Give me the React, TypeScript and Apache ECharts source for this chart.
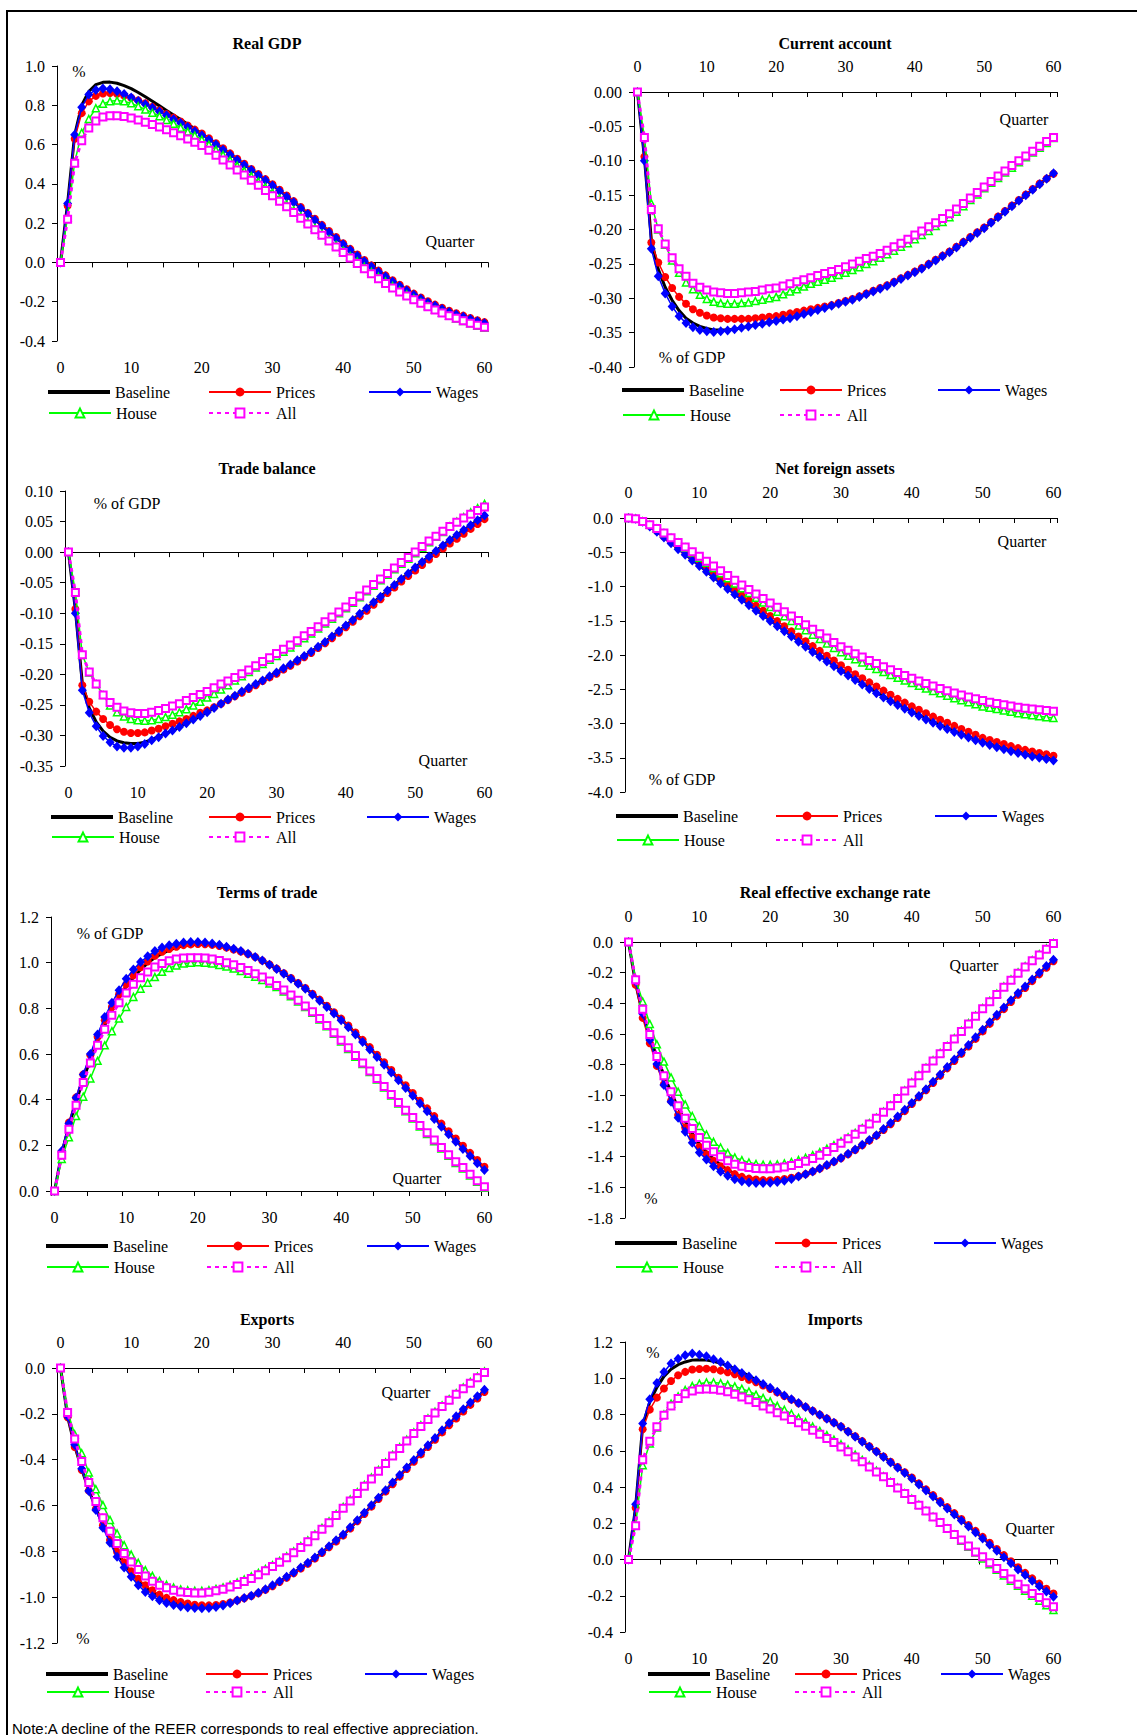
import React, { useEffect, useRef } from 'react';
import * as echarts from 'echarts';

// ---------------- categories ----------------
const quarters: string[] = Array.from({ length: 61 }, (_, i) => String(i));
const seriesNames = ['Baseline', 'Prices', 'Wages', 'House', 'All'];

// ---------------- Real GDP ----------------
const gdpBaseline = [
  0, 0.30, 0.65, 0.80, 0.87, 0.905, 0.917, 0.918, 0.912, 0.90, 0.885,
  0.865, 0.843, 0.82, 0.797, 0.774, 0.751, 0.728, 0.704, 0.68, 0.655,
  0.63, 0.604, 0.578, 0.552, 0.525, 0.499, 0.473, 0.447, 0.421, 0.395,
  0.367, 0.338, 0.309, 0.279, 0.249, 0.219, 0.188, 0.157, 0.126, 0.095,
  0.066, 0.037, 0.009, -0.018, -0.044, -0.069, -0.094, -0.117, -0.14, -0.162,
  -0.182, -0.201, -0.218, -0.234, -0.249, -0.262, -0.274, -0.285, -0.296, -0.306];
const gdpPrices = [
  0, 0.29, 0.63, 0.76, 0.82, 0.848, 0.86, 0.862, 0.858, 0.85, 0.838,
  0.825, 0.81, 0.792, 0.774, 0.756, 0.737, 0.717, 0.697, 0.676, 0.656,
  0.632, 0.607, 0.581, 0.555, 0.528, 0.502, 0.476, 0.45, 0.424, 0.398,
  0.37, 0.341, 0.312, 0.282, 0.252, 0.222, 0.191, 0.16, 0.129, 0.098,
  0.069, 0.04, 0.012, -0.015, -0.041, -0.066, -0.091, -0.114, -0.137, -0.159,
  -0.179, -0.198, -0.215, -0.231, -0.246, -0.259, -0.271, -0.283, -0.294, -0.304];
const gdpWages = [
  0, 0.30, 0.65, 0.79, 0.855, 0.878, 0.885, 0.882, 0.872, 0.857, 0.84,
  0.822, 0.805, 0.787, 0.768, 0.749, 0.729, 0.71, 0.69, 0.668, 0.648,
  0.625, 0.6, 0.574, 0.548, 0.522, 0.496, 0.47, 0.444, 0.418, 0.392,
  0.364, 0.335, 0.306, 0.276, 0.246, 0.216, 0.185, 0.154, 0.123, 0.092,
  0.063, 0.034, 0.006, -0.021, -0.047, -0.072, -0.097, -0.12, -0.143, -0.165,
  -0.185, -0.204, -0.221, -0.237, -0.252, -0.265, -0.277, -0.288, -0.299, -0.309];
const gdpHouse = [
  0, 0.23, 0.51, 0.66, 0.73, 0.785, 0.808, 0.82, 0.824, 0.82, 0.81,
  0.795, 0.779, 0.762, 0.744, 0.725, 0.706, 0.686, 0.666, 0.646, 0.625,
  0.599, 0.573, 0.547, 0.52, 0.493, 0.466, 0.439, 0.411, 0.383, 0.355,
  0.326, 0.296, 0.266, 0.236, 0.206, 0.176, 0.146, 0.117, 0.088, 0.06,
  0.032, 0.005, -0.022, -0.048, -0.073, -0.097, -0.12, -0.142, -0.163, -0.183,
  -0.203, -0.222, -0.24, -0.256, -0.271, -0.285, -0.298, -0.31, -0.322, -0.333];
const gdpAll = [
  0, 0.22, 0.505, 0.62, 0.685, 0.72, 0.74, 0.747, 0.747, 0.743, 0.735,
  0.725, 0.714, 0.702, 0.689, 0.675, 0.66, 0.645, 0.629, 0.612, 0.595,
  0.571, 0.546, 0.521, 0.496, 0.471, 0.445, 0.419, 0.393, 0.366, 0.34,
  0.312, 0.283, 0.254, 0.225, 0.196, 0.167, 0.138, 0.109, 0.079, 0.05,
  0.022, -0.005, -0.032, -0.058, -0.083, -0.107, -0.13, -0.151, -0.171, -0.19,
  -0.208, -0.226, -0.242, -0.257, -0.271, -0.284, -0.297, -0.309, -0.32, -0.33];

// ---------------- Current account ----------------
const caBaseline = [
  0, -0.095, -0.215, -0.258, -0.284, -0.303, -0.318, -0.329, -0.336, -0.341, -0.344,
  -0.346, -0.346, -0.346, -0.345, -0.343, -0.341, -0.339, -0.337, -0.335, -0.333,
  -0.331, -0.329, -0.326, -0.323, -0.32, -0.317, -0.314, -0.311, -0.308, -0.305,
  -0.302, -0.298, -0.294, -0.29, -0.286, -0.282, -0.277, -0.272, -0.267, -0.262,
  -0.257, -0.251, -0.245, -0.239, -0.233, -0.226, -0.219, -0.212, -0.205, -0.198,
  -0.19, -0.182, -0.174, -0.166, -0.158, -0.15, -0.142, -0.134, -0.126, -0.118];
const caPrices = [
  0, -0.094, -0.219, -0.248, -0.269, -0.285, -0.298, -0.308, -0.316, -0.321, -0.325,
  -0.328, -0.329, -0.33, -0.33, -0.33, -0.33, -0.329, -0.328, -0.327, -0.326,
  -0.324, -0.322, -0.32, -0.318, -0.316, -0.314, -0.312, -0.31, -0.307, -0.304,
  -0.301, -0.297, -0.293, -0.289, -0.285, -0.281, -0.276, -0.271, -0.266, -0.261,
  -0.256, -0.25, -0.244, -0.238, -0.232, -0.225, -0.218, -0.211, -0.204, -0.197,
  -0.189, -0.181, -0.173, -0.165, -0.157, -0.149, -0.141, -0.133, -0.126, -0.119];
const caWages = [
  0, -0.10, -0.228, -0.268, -0.293, -0.312, -0.326, -0.336, -0.342, -0.346, -0.348,
  -0.349, -0.348, -0.347, -0.345, -0.343, -0.341, -0.339, -0.337, -0.335, -0.333,
  -0.331, -0.329, -0.326, -0.323, -0.32, -0.317, -0.314, -0.311, -0.308, -0.305,
  -0.302, -0.298, -0.294, -0.29, -0.286, -0.282, -0.277, -0.272, -0.267, -0.262,
  -0.257, -0.251, -0.245, -0.239, -0.233, -0.226, -0.219, -0.212, -0.205, -0.198,
  -0.19, -0.182, -0.174, -0.166, -0.158, -0.15, -0.142, -0.134, -0.126, -0.118];
const caHouse = [
  0, -0.065, -0.162, -0.2, -0.222, -0.245, -0.263, -0.277, -0.287, -0.295, -0.301,
  -0.305, -0.307, -0.308, -0.308, -0.307, -0.306, -0.304, -0.302, -0.3, -0.298,
  -0.294, -0.29, -0.287, -0.283, -0.279, -0.276, -0.273, -0.27, -0.266, -0.263,
  -0.259, -0.255, -0.25, -0.246, -0.241, -0.236, -0.231, -0.225, -0.22, -0.214,
  -0.208, -0.202, -0.195, -0.189, -0.182, -0.174, -0.166, -0.157, -0.149, -0.14,
  -0.132, -0.125, -0.117, -0.11, -0.102, -0.095, -0.088, -0.081, -0.074, -0.067];
const caAll = [
  0, -0.066, -0.171, -0.199, -0.221, -0.241, -0.257, -0.268, -0.278, -0.284, -0.288,
  -0.291, -0.292, -0.293, -0.293, -0.292, -0.291, -0.29, -0.288, -0.286, -0.285,
  -0.282, -0.279, -0.276, -0.273, -0.27, -0.267, -0.264, -0.261, -0.258, -0.254,
  -0.25, -0.246, -0.242, -0.239, -0.235, -0.23, -0.225, -0.22, -0.214, -0.208,
  -0.202, -0.196, -0.19, -0.184, -0.177, -0.17, -0.162, -0.154, -0.146, -0.138,
  -0.13, -0.122, -0.115, -0.107, -0.1, -0.093, -0.086, -0.079, -0.072, -0.066];

// ---------------- Trade balance ----------------
const tbBaseline = [
  0, -0.095, -0.215, -0.255, -0.278, -0.293, -0.303, -0.309, -0.312, -0.313, -0.313,
  -0.311, -0.307, -0.302, -0.297, -0.292, -0.286, -0.28, -0.274, -0.268, -0.262,
  -0.255, -0.248, -0.241, -0.235, -0.228, -0.222, -0.216, -0.21, -0.203, -0.197,
  -0.19, -0.184, -0.177, -0.17, -0.163, -0.155, -0.147, -0.138, -0.129, -0.12,
  -0.111, -0.101, -0.092, -0.082, -0.073, -0.063, -0.054, -0.044, -0.035, -0.025,
  -0.016, -0.007, 0.002, 0.011, 0.02, 0.028, 0.036, 0.044, 0.052, 0.06];
const tbPrices = [
  0, -0.093, -0.218, -0.245, -0.261, -0.273, -0.283, -0.29, -0.294, -0.296, -0.296,
  -0.295, -0.292, -0.289, -0.285, -0.281, -0.277, -0.273, -0.268, -0.263, -0.259,
  -0.254, -0.248, -0.242, -0.236, -0.23, -0.224, -0.218, -0.211, -0.205, -0.199,
  -0.192, -0.186, -0.179, -0.172, -0.165, -0.157, -0.149, -0.141, -0.132, -0.123,
  -0.114, -0.105, -0.096, -0.086, -0.077, -0.067, -0.058, -0.048, -0.039, -0.03,
  -0.021, -0.012, -0.003, 0.006, 0.014, 0.022, 0.03, 0.038, 0.046, 0.054];
const tbWages = [
  0, -0.10, -0.226, -0.263, -0.285, -0.301, -0.311, -0.318, -0.32, -0.32, -0.318,
  -0.314, -0.308, -0.303, -0.297, -0.292, -0.286, -0.28, -0.274, -0.268, -0.262,
  -0.255, -0.248, -0.241, -0.235, -0.228, -0.222, -0.216, -0.21, -0.203, -0.197,
  -0.19, -0.184, -0.177, -0.17, -0.163, -0.155, -0.147, -0.138, -0.129, -0.12,
  -0.111, -0.101, -0.092, -0.082, -0.073, -0.063, -0.054, -0.044, -0.035, -0.025,
  -0.016, -0.007, 0.002, 0.011, 0.02, 0.028, 0.036, 0.044, 0.052, 0.06];
const tbHouse = [
  0, -0.065, -0.168, -0.197, -0.216, -0.234, -0.251, -0.262, -0.269, -0.273, -0.275,
  -0.276, -0.275, -0.273, -0.27, -0.266, -0.262, -0.257, -0.251, -0.245, -0.238,
  -0.232, -0.225, -0.218, -0.21, -0.203, -0.196, -0.189, -0.183, -0.176, -0.17,
  -0.163, -0.156, -0.148, -0.141, -0.133, -0.125, -0.117, -0.109, -0.1, -0.092,
  -0.083, -0.074, -0.064, -0.055, -0.046, -0.037, -0.028, -0.019, -0.011, -0.002,
  0.007, 0.016, 0.025, 0.033, 0.042, 0.05, 0.057, 0.065, 0.072, 0.079];
const tbAll = [
  0, -0.066, -0.168, -0.196, -0.216, -0.234, -0.246, -0.254, -0.26, -0.263, -0.264,
  -0.264, -0.262, -0.259, -0.256, -0.252, -0.248, -0.243, -0.238, -0.233, -0.228,
  -0.222, -0.216, -0.211, -0.205, -0.199, -0.193, -0.186, -0.179, -0.173, -0.166,
  -0.159, -0.152, -0.145, -0.137, -0.13, -0.122, -0.114, -0.106, -0.098, -0.09,
  -0.081, -0.072, -0.062, -0.053, -0.044, -0.035, -0.026, -0.017, -0.009, 0.0,
  0.009, 0.018, 0.026, 0.034, 0.042, 0.049, 0.056, 0.062, 0.068, 0.074];

// ---------------- Net foreign assets ----------------
const nfaBaseline = [
  0, -0.01, -0.055, -0.123, -0.197, -0.28, -0.364, -0.448, -0.528, -0.612, -0.692,
  -0.777, -0.861, -0.945, -1.025, -1.105, -1.185, -1.264, -1.343, -1.418, -1.493,
  -1.568, -1.643, -1.717, -1.792, -1.866, -1.94, -2.01, -2.08, -2.15, -2.22,
  -2.285, -2.35, -2.415, -2.479, -2.543, -2.603, -2.659, -2.714, -2.769, -2.823,
  -2.873, -2.923, -2.973, -3.018, -3.063, -3.108, -3.148, -3.188, -3.228, -3.263,
  -3.298, -3.328, -3.358, -3.388, -3.413, -3.438, -3.463, -3.483, -3.503, -3.523];
const nfaPrices = [
  0, -0.01, -0.05, -0.115, -0.19, -0.27, -0.35, -0.425, -0.5, -0.58, -0.655,
  -0.735, -0.815, -0.895, -0.975, -1.055, -1.13, -1.205, -1.28, -1.355, -1.43,
  -1.505, -1.58, -1.655, -1.73, -1.8, -1.87, -1.94, -2.01, -2.08, -2.15,
  -2.215, -2.28, -2.34, -2.4, -2.46, -2.52, -2.58, -2.64, -2.695, -2.75,
  -2.8, -2.85, -2.9, -2.945, -2.99, -3.035, -3.08, -3.12, -3.165, -3.21,
  -3.24, -3.27, -3.3, -3.33, -3.36, -3.385, -3.41, -3.43, -3.45, -3.47];
const nfaWages = [
  0, -0.01, -0.055, -0.125, -0.2, -0.285, -0.37, -0.455, -0.535, -0.62, -0.70,
  -0.785, -0.87, -0.955, -1.035, -1.115, -1.195, -1.275, -1.355, -1.43, -1.505,
  -1.58, -1.655, -1.73, -1.805, -1.88, -1.955, -2.025, -2.095, -2.165, -2.235,
  -2.3, -2.365, -2.43, -2.495, -2.56, -2.62, -2.675, -2.73, -2.785, -2.84,
  -2.89, -2.94, -2.99, -3.035, -3.08, -3.125, -3.165, -3.205, -3.245, -3.28,
  -3.315, -3.345, -3.375, -3.405, -3.43, -3.455, -3.48, -3.5, -3.52, -3.54];
const nfaHouse = [
  0, -0.01, -0.05, -0.097, -0.155, -0.22, -0.29, -0.36, -0.435, -0.505, -0.58,
  -0.655, -0.73, -0.805, -0.88, -0.955, -1.025, -1.095, -1.165, -1.235, -1.3,
  -1.368, -1.436, -1.503, -1.57, -1.637, -1.703, -1.768, -1.833, -1.897, -1.96,
  -2.012, -2.062, -2.11, -2.158, -2.204, -2.249, -2.292, -2.333, -2.372, -2.41,
  -2.45, -2.49, -2.525, -2.56, -2.595, -2.63, -2.66, -2.69, -2.72, -2.75,
  -2.77, -2.79, -2.81, -2.83, -2.85, -2.865, -2.88, -2.895, -2.91, -2.92];
const nfaAll = [
  0, -0.01, -0.05, -0.097, -0.155, -0.22, -0.288, -0.357, -0.425, -0.493, -0.56,
  -0.63, -0.7, -0.77, -0.84, -0.91, -0.978, -1.045, -1.11, -1.175, -1.24,
  -1.304, -1.368, -1.432, -1.496, -1.56, -1.624, -1.688, -1.752, -1.816, -1.88,
  -1.932, -1.982, -2.031, -2.079, -2.125, -2.17, -2.214, -2.257, -2.299, -2.34,
  -2.379, -2.417, -2.453, -2.488, -2.521, -2.553, -2.583, -2.612, -2.639, -2.665,
  -2.688, -2.709, -2.728, -2.746, -2.762, -2.776, -2.789, -2.8, -2.81, -2.82];

// ---------------- Terms of trade ----------------
const totBaseline = [
  0, 0.165, 0.285, 0.39, 0.49, 0.575, 0.655, 0.725, 0.79, 0.845, 0.895,
  0.935, 0.97, 0.998, 1.022, 1.04, 1.055, 1.066, 1.074, 1.079, 1.081,
  1.08, 1.077, 1.072, 1.065, 1.057, 1.048, 1.037, 1.024, 1.008, 0.991,
  0.973, 0.953, 0.932, 0.91, 0.888, 0.863, 0.837, 0.81, 0.782, 0.753,
  0.722, 0.691, 0.659, 0.626, 0.593, 0.56, 0.526, 0.492, 0.458, 0.424,
  0.39, 0.356, 0.322, 0.289, 0.256, 0.224, 0.192, 0.161, 0.13, 0.1];
const totPrices = [
  0, 0.17, 0.3, 0.41, 0.51, 0.595, 0.675, 0.748, 0.806, 0.862, 0.905,
  0.945, 0.98, 1.005, 1.03, 1.048, 1.06, 1.07, 1.077, 1.08, 1.082,
  1.081, 1.078, 1.073, 1.066, 1.058, 1.049, 1.038, 1.025, 1.009, 0.992,
  0.974, 0.954, 0.933, 0.911, 0.889, 0.864, 0.838, 0.811, 0.783, 0.755,
  0.725, 0.694, 0.662, 0.63, 0.597, 0.564, 0.53, 0.496, 0.463, 0.429,
  0.395, 0.362, 0.328, 0.295, 0.262, 0.23, 0.198, 0.167, 0.136, 0.106];
const totWages = [
  0, 0.175, 0.296, 0.408, 0.51, 0.6, 0.685, 0.762, 0.824, 0.879, 0.93,
  0.97, 1.003, 1.028, 1.051, 1.066, 1.076, 1.083, 1.088, 1.09, 1.09,
  1.088, 1.084, 1.078, 1.07, 1.061, 1.051, 1.039, 1.025, 1.009, 0.991,
  0.972, 0.952, 0.93, 0.908, 0.886, 0.86, 0.833, 0.806, 0.777, 0.748,
  0.717, 0.685, 0.653, 0.62, 0.587, 0.553, 0.519, 0.485, 0.451, 0.417,
  0.383, 0.349, 0.315, 0.281, 0.248, 0.216, 0.184, 0.153, 0.122, 0.092];
const totHouse = [
  0, 0.14, 0.235, 0.328, 0.413, 0.493, 0.57, 0.638, 0.7, 0.755, 0.806,
  0.85, 0.886, 0.912, 0.937, 0.96, 0.977, 0.988, 0.996, 1.0, 1.002,
  1.0, 0.996, 0.99, 0.983, 0.974, 0.963, 0.951, 0.938, 0.924, 0.909,
  0.893, 0.874, 0.853, 0.83, 0.806, 0.781, 0.751, 0.721, 0.689, 0.655,
  0.622, 0.588, 0.556, 0.521, 0.488, 0.453, 0.418, 0.383, 0.349, 0.317,
  0.282, 0.25, 0.218, 0.186, 0.154, 0.123, 0.098, 0.068, 0.04, 0.014];
const totAll = [
  0, 0.157, 0.27, 0.376, 0.475, 0.561, 0.638, 0.708, 0.77, 0.824, 0.867,
  0.905, 0.934, 0.959, 0.981, 0.996, 1.008, 1.016, 1.02, 1.022, 1.022,
  1.02, 1.016, 1.01, 1.0, 0.991, 0.979, 0.966, 0.952, 0.937, 0.92,
  0.9, 0.88, 0.858, 0.835, 0.81, 0.785, 0.755, 0.725, 0.693, 0.66,
  0.627, 0.593, 0.561, 0.526, 0.493, 0.458, 0.423, 0.388, 0.354, 0.322,
  0.287, 0.255, 0.223, 0.191, 0.159, 0.128, 0.103, 0.073, 0.045, 0.019];

// ---------------- Real effective exchange rate ----------------
const reerBaseline = [
  0, -0.27, -0.47, -0.62, -0.75, -0.87, -0.98, -1.08, -1.17, -1.25, -1.315,
  -1.37, -1.415, -1.455, -1.487, -1.512, -1.53, -1.543, -1.551, -1.555, -1.556,
  -1.553, -1.547, -1.539, -1.528, -1.514, -1.497, -1.478, -1.456, -1.433, -1.409,
  -1.383, -1.355, -1.325, -1.294, -1.261, -1.224, -1.187, -1.146, -1.1, -1.054,
  -1.009, -0.964, -0.916, -0.868, -0.82, -0.772, -0.725, -0.677, -0.627, -0.578,
  -0.529, -0.48, -0.433, -0.386, -0.339, -0.295, -0.25, -0.206, -0.163, -0.121];
const reerPrices = [
  0, -0.279, -0.495, -0.66, -0.808, -0.928, -1.035, -1.129, -1.21, -1.275, -1.336,
  -1.384, -1.427, -1.462, -1.488, -1.514, -1.532, -1.543, -1.549, -1.553, -1.554,
  -1.551, -1.546, -1.538, -1.527, -1.514, -1.497, -1.478, -1.457, -1.434, -1.41,
  -1.384, -1.356, -1.326, -1.295, -1.262, -1.226, -1.189, -1.148, -1.103, -1.057,
  -1.012, -0.967, -0.92, -0.872, -0.824, -0.776, -0.729, -0.681, -0.632, -0.583,
  -0.534, -0.485, -0.438, -0.391, -0.344, -0.3, -0.255, -0.211, -0.168, -0.126];
const reerWages = [
  0, -0.257, -0.468, -0.639, -0.795, -0.933, -1.042, -1.146, -1.238, -1.31, -1.373,
  -1.419, -1.462, -1.497, -1.525, -1.547, -1.56, -1.568, -1.572, -1.572, -1.57,
  -1.565, -1.557, -1.545, -1.53, -1.514, -1.496, -1.477, -1.455, -1.432, -1.408,
  -1.381, -1.353, -1.323, -1.292, -1.26, -1.22, -1.18, -1.138, -1.094, -1.05,
  -1.005, -0.96, -0.912, -0.864, -0.815, -0.767, -0.72, -0.672, -0.622, -0.573,
  -0.524, -0.474, -0.427, -0.38, -0.333, -0.29, -0.245, -0.2, -0.157, -0.115];
const reerHouse = [
  0, -0.24, -0.388, -0.534, -0.667, -0.78, -0.883, -0.976, -1.059, -1.135, -1.2,
  -1.255, -1.303, -1.34, -1.375, -1.405, -1.423, -1.438, -1.448, -1.452, -1.453,
  -1.45, -1.444, -1.435, -1.422, -1.407, -1.39, -1.37, -1.348, -1.325, -1.3,
  -1.274, -1.245, -1.214, -1.181, -1.145, -1.106, -1.065, -1.018, -0.968, -0.915,
  -0.867, -0.819, -0.771, -0.723, -0.677, -0.628, -0.579, -0.529, -0.48, -0.431,
  -0.384, -0.337, -0.29, -0.244, -0.198, -0.158, -0.118, -0.08, -0.042, -0.006];
const reerAll = [
  0, -0.246, -0.438, -0.604, -0.747, -0.872, -0.976, -1.068, -1.15, -1.216, -1.275,
  -1.325, -1.368, -1.401, -1.427, -1.449, -1.462, -1.471, -1.477, -1.479, -1.478,
  -1.474, -1.467, -1.457, -1.445, -1.43, -1.412, -1.39, -1.366, -1.34, -1.312,
  -1.283, -1.253, -1.221, -1.187, -1.15, -1.11, -1.068, -1.02, -0.972, -0.92,
  -0.872, -0.824, -0.776, -0.728, -0.682, -0.633, -0.584, -0.534, -0.485, -0.436,
  -0.389, -0.342, -0.295, -0.249, -0.203, -0.163, -0.123, -0.085, -0.047, -0.01];

// ---------------- Exports ----------------
const exBaseline = [
  0, -0.212, -0.34, -0.442, -0.533, -0.612, -0.685, -0.75, -0.805, -0.852, -0.893,
  -0.928, -0.957, -0.98, -0.999, -1.013, -1.023, -1.03, -1.035, -1.038, -1.04,
  -1.04, -1.037, -1.032, -1.024, -1.014, -1.004, -0.994, -0.982, -0.967, -0.95,
  -0.932, -0.913, -0.894, -0.873, -0.852, -0.829, -0.805, -0.78, -0.755, -0.729,
  -0.698, -0.667, -0.635, -0.602, -0.569, -0.536, -0.503, -0.47, -0.437, -0.405,
  -0.373, -0.341, -0.309, -0.277, -0.245, -0.215, -0.185, -0.156, -0.128, -0.1];
const exPrices = [
  0, -0.215, -0.345, -0.445, -0.535, -0.615, -0.686, -0.751, -0.802, -0.848, -0.887,
  -0.92, -0.948, -0.97, -0.989, -1.003, -1.013, -1.021, -1.028, -1.033, -1.035,
  -1.036, -1.034, -1.03, -1.023, -1.014, -1.005, -0.995, -0.983, -0.968, -0.952,
  -0.934, -0.915, -0.896, -0.875, -0.854, -0.831, -0.807, -0.782, -0.757, -0.731,
  -0.7, -0.669, -0.637, -0.605, -0.572, -0.539, -0.507, -0.474, -0.441, -0.409,
  -0.377, -0.345, -0.313, -0.281, -0.25, -0.22, -0.19, -0.161, -0.133, -0.105];
const exWages = [
  0, -0.211, -0.335, -0.44, -0.537, -0.62, -0.697, -0.763, -0.824, -0.87, -0.911,
  -0.948, -0.977, -0.996, -1.013, -1.025, -1.034, -1.041, -1.045, -1.047, -1.048,
  -1.047, -1.043, -1.036, -1.026, -1.015, -1.004, -0.994, -0.981, -0.965, -0.948,
  -0.93, -0.911, -0.892, -0.871, -0.85, -0.827, -0.803, -0.778, -0.752, -0.726,
  -0.695, -0.664, -0.632, -0.599, -0.566, -0.533, -0.5, -0.467, -0.434, -0.401,
  -0.369, -0.337, -0.305, -0.272, -0.24, -0.21, -0.18, -0.151, -0.123, -0.095];
const exHouse = [
  0, -0.19, -0.289, -0.372, -0.456, -0.529, -0.598, -0.663, -0.722, -0.773, -0.814,
  -0.85, -0.882, -0.907, -0.929, -0.946, -0.958, -0.966, -0.97, -0.972, -0.972,
  -0.969, -0.964, -0.957, -0.947, -0.936, -0.923, -0.909, -0.894, -0.877, -0.86,
  -0.842, -0.822, -0.8, -0.777, -0.752, -0.726, -0.698, -0.669, -0.638, -0.606,
  -0.574, -0.542, -0.51, -0.478, -0.445, -0.412, -0.379, -0.346, -0.313, -0.281,
  -0.25, -0.22, -0.191, -0.163, -0.136, -0.11, -0.085, -0.061, -0.038, -0.015];
const exAll = [
  0, -0.194, -0.31, -0.408, -0.5, -0.583, -0.653, -0.712, -0.766, -0.809, -0.846,
  -0.879, -0.908, -0.93, -0.948, -0.959, -0.97, -0.977, -0.98, -0.982, -0.982,
  -0.978, -0.972, -0.965, -0.956, -0.945, -0.932, -0.918, -0.902, -0.885, -0.866,
  -0.848, -0.828, -0.806, -0.783, -0.758, -0.732, -0.704, -0.675, -0.644, -0.612,
  -0.58, -0.548, -0.516, -0.484, -0.45, -0.417, -0.384, -0.351, -0.318, -0.286,
  -0.255, -0.225, -0.196, -0.168, -0.141, -0.115, -0.09, -0.066, -0.043, -0.02];

// ---------------- Imports ----------------
const imBaseline = [
  0, 0.29, 0.74, 0.87, 0.95, 1.01, 1.05, 1.075, 1.09, 1.1, 1.102,
  1.1, 1.093, 1.083, 1.07, 1.052, 1.033, 1.013, 0.99, 0.968, 0.946,
  0.925, 0.904, 0.883, 0.862, 0.841, 0.82, 0.798, 0.776, 0.754, 0.732,
  0.705, 0.678, 0.651, 0.623, 0.595, 0.566, 0.537, 0.508, 0.478, 0.449,
  0.416, 0.383, 0.35, 0.317, 0.284, 0.251, 0.218, 0.185, 0.152, 0.119,
  0.086, 0.052, 0.018, -0.016, -0.05, -0.081, -0.112, -0.142, -0.171, -0.2];
const imPrices = [
  0, 0.285, 0.719, 0.827, 0.893, 0.943, 0.985, 1.017, 1.035, 1.048, 1.051,
  1.052, 1.05, 1.042, 1.033, 1.022, 1.007, 0.992, 0.978, 0.96, 0.941,
  0.922, 0.902, 0.882, 0.862, 0.842, 0.821, 0.799, 0.778, 0.756, 0.734,
  0.707, 0.68, 0.653, 0.625, 0.597, 0.568, 0.539, 0.51, 0.481, 0.452,
  0.42, 0.387, 0.355, 0.322, 0.289, 0.256, 0.223, 0.19, 0.158, 0.125,
  0.092, 0.058, 0.024, -0.01, -0.043, -0.074, -0.104, -0.133, -0.161, -0.188];
const imWages = [
  0, 0.305, 0.75, 0.884, 0.974, 1.035, 1.081, 1.108, 1.127, 1.136, 1.13,
  1.121, 1.105, 1.09, 1.07, 1.05, 1.029, 1.009, 0.989, 0.968, 0.947,
  0.926, 0.905, 0.884, 0.863, 0.842, 0.82, 0.798, 0.776, 0.754, 0.732,
  0.705, 0.677, 0.65, 0.622, 0.594, 0.565, 0.535, 0.506, 0.477, 0.447,
  0.414, 0.381, 0.348, 0.315, 0.281, 0.248, 0.215, 0.182, 0.149, 0.116,
  0.082, 0.048, 0.013, -0.021, -0.055, -0.086, -0.117, -0.147, -0.177, -0.206];
const imHouse = [
  0, 0.19, 0.52, 0.64, 0.728, 0.8, 0.86, 0.9, 0.935, 0.957, 0.97,
  0.977, 0.977, 0.973, 0.965, 0.955, 0.942, 0.927, 0.91, 0.892, 0.872,
  0.848, 0.826, 0.804, 0.781, 0.757, 0.734, 0.71, 0.686, 0.661, 0.636,
  0.608, 0.579, 0.55, 0.52, 0.49, 0.459, 0.428, 0.397, 0.366, 0.335,
  0.302, 0.269, 0.236, 0.203, 0.17, 0.137, 0.104, 0.071, 0.038, 0.005,
  -0.026, -0.057, -0.088, -0.117, -0.145, -0.173, -0.2, -0.227, -0.253, -0.278];
const imAll = [
  0, 0.186, 0.551, 0.653, 0.732, 0.796, 0.847, 0.888, 0.914, 0.93, 0.939,
  0.941, 0.94, 0.934, 0.925, 0.912, 0.897, 0.882, 0.866, 0.847, 0.831,
  0.81, 0.792, 0.772, 0.754, 0.735, 0.713, 0.691, 0.667, 0.645, 0.621,
  0.594, 0.566, 0.539, 0.511, 0.483, 0.456, 0.425, 0.395, 0.364, 0.331,
  0.3, 0.267, 0.235, 0.204, 0.171, 0.138, 0.107, 0.074, 0.042, 0.015,
  -0.018, -0.05, -0.077, -0.107, -0.136, -0.162, -0.188, -0.21, -0.239, -0.261];

// ---------------- layout (positions / styles only) ----------------
const SERIF = "'Times New Roman', 'Liberation Serif', serif";
const SANS = "Arial, 'Liberation Sans', sans-serif";

type Panel = {
  title: string; data: number[][]; min: number; max: number; interval: number; decimals: number;
  grid: { left: number; top: number; width: number; height: number };
  labelPos: 'top' | 'bottom'; titleXY: [number, number];
  notes: { text: string; x: number; y: number }[];
  rows: [number, number]; cols: [number, number, number];
};

const panels: Panel[] = [
  { title: 'Real GDP', data: [gdpBaseline, gdpPrices, gdpWages, gdpHouse, gdpAll], min: -0.4, max: 1.0, interval: 0.2, decimals: 1,
    grid: { left: 57, top: 66, width: 431, height: 275 }, labelPos: 'bottom', titleXY: [267, 43],
    notes: [{ text: '%', x: 79, y: 71 }, { text: 'Quarter', x: 450, y: 241 }], rows: [392, 413], cols: [48, 208, 368] },
  { title: 'Current account', data: [caBaseline, caPrices, caWages, caHouse, caAll], min: -0.4, max: 0, interval: 0.05, decimals: 2,
    grid: { left: 634, top: 92, width: 423, height: 275 }, labelPos: 'top', titleXY: [835, 43],
    notes: [{ text: 'Quarter', x: 1024, y: 119 }, { text: '% of GDP', x: 692, y: 357 }], rows: [390, 415], cols: [622, 779, 937] },
  { title: 'Trade balance', data: [tbBaseline, tbPrices, tbWages, tbHouse, tbAll], min: -0.35, max: 0.1, interval: 0.05, decimals: 2,
    grid: { left: 65, top: 491, width: 423, height: 275 }, labelPos: 'bottom', titleXY: [267, 468],
    notes: [{ text: '% of GDP', x: 127, y: 503 }, { text: 'Quarter', x: 443, y: 760 }], rows: [817, 837], cols: [51, 208, 366] },
  { title: 'Net foreign assets', data: [nfaBaseline, nfaPrices, nfaWages, nfaHouse, nfaAll], min: -4, max: 0, interval: 0.5, decimals: 1,
    grid: { left: 625, top: 518, width: 432, height: 274 }, labelPos: 'top', titleXY: [835, 468],
    notes: [{ text: 'Quarter', x: 1022, y: 541 }, { text: '% of GDP', x: 682, y: 779 }], rows: [816, 840], cols: [616, 775, 934] },
  { title: 'Terms of trade', data: [totBaseline, totPrices, totWages, totHouse, totAll], min: 0, max: 1.2, interval: 0.2, decimals: 1,
    grid: { left: 51, top: 917, width: 437, height: 274 }, labelPos: 'bottom', titleXY: [267, 892],
    notes: [{ text: '% of GDP', x: 110, y: 933 }, { text: 'Quarter', x: 417, y: 1178 }], rows: [1246, 1267], cols: [46, 206, 366] },
  { title: 'Real effective exchange rate', data: [reerBaseline, reerPrices, reerWages, reerHouse, reerAll], min: -1.8, max: 0, interval: 0.2, decimals: 1,
    grid: { left: 625, top: 942, width: 432, height: 276 }, labelPos: 'top', titleXY: [835, 892],
    notes: [{ text: 'Quarter', x: 974, y: 965 }, { text: '%', x: 651, y: 1198 }], rows: [1243, 1267], cols: [615, 774, 933] },
  { title: 'Exports', data: [exBaseline, exPrices, exWages, exHouse, exAll], min: -1.2, max: 0, interval: 0.2, decimals: 1,
    grid: { left: 57, top: 1368, width: 431, height: 275 }, labelPos: 'top', titleXY: [267, 1319],
    notes: [{ text: 'Quarter', x: 406, y: 1392 }, { text: '%', x: 83, y: 1638 }], rows: [1674, 1692], cols: [46, 205, 364] },
  { title: 'Imports', data: [imBaseline, imPrices, imWages, imHouse, imAll], min: -0.4, max: 1.2, interval: 0.2, decimals: 1,
    grid: { left: 625, top: 1342, width: 432, height: 290 }, labelPos: 'bottom', titleXY: [835, 1319],
    notes: [{ text: '%', x: 653, y: 1352 }, { text: 'Quarter', x: 1030, y: 1528 }], rows: [1674, 1692], cols: [648, 794, 940] },
];

const seriesStyles: any[] = [
  { symbol: 'none', lineStyle: { color: '#000000', width: 3 }, itemStyle: { color: '#000000' } },
  { symbol: 'circle', symbolSize: 8, lineStyle: { color: '#ff0000', width: 1.5 }, itemStyle: { color: '#ff0000' } },
  { symbol: 'diamond', symbolSize: [9, 10], lineStyle: { color: '#0000ff', width: 1.5 }, itemStyle: { color: '#0000ff' } },
  { symbol: 'triangle', symbolSize: 7, lineStyle: { color: '#00ff00', width: 1.5 }, itemStyle: { color: '#ffffff', borderColor: '#00ff00', borderWidth: 1.5 } },
  { symbol: 'rect', symbolSize: 7, lineStyle: { color: '#ff00ff', width: 3, type: [4, 4] }, itemStyle: { color: '#ffffff', borderColor: '#ff00ff', borderWidth: 2 } },
];

function buildOption() {
  const grid: any[] = [];
  const xAxis: any[] = [];
  const yAxis: any[] = [];
  const series: any[] = [];
  const legend: any[] = [];
  const graphic: any[] = [];

  panels.forEach((p, i) => {
    grid.push({ left: p.grid.left, top: p.grid.top, width: p.grid.width, height: p.grid.height, containLabel: false });
    // axis line through zero with ticks
    xAxis.push({
      type: 'category', gridIndex: i, data: quarters, boundaryGap: true, position: 'bottom',
      axisLine: { show: true, onZero: true, lineStyle: { color: '#000', width: 1 } },
      axisTick: { show: true, interval: 4, length: 5, lineStyle: { color: '#000', width: 1 } },
      axisLabel: { show: false }, splitLine: { show: false },
    });
    // label-only axis
    xAxis.push({
      type: 'category', gridIndex: i, data: quarters, boundaryGap: true, position: p.labelPos,
      axisLine: { show: false, onZero: false }, axisTick: { show: false }, splitLine: { show: false },
      axisLabel: { show: true, interval: 9, margin: 18, color: '#000', fontSize: 16, fontFamily: SERIF },
    });
    yAxis.push({
      type: 'value', gridIndex: i, min: p.min, max: p.max, interval: p.interval, position: 'left',
      axisLine: { show: true, onZero: false, lineStyle: { color: '#000', width: 1 } },
      axisTick: { show: true, length: 5, lineStyle: { color: '#000', width: 1 } },
      splitLine: { show: false },
      axisLabel: { margin: 12, color: '#000', fontSize: 16, fontFamily: SERIF, formatter: (v: number) => v.toFixed(p.decimals) },
    });
    p.data.forEach((d, k) => {
      series.push({
        type: 'line', name: seriesNames[k], xAxisIndex: 2 * i, yAxisIndex: i, data: d,
        showAllSymbol: true, smooth: false, z: 2 + k, ...seriesStyles[k],
      });
    });
    seriesNames.forEach((name, k) => {
      const row = k < 3 ? 0 : 1;
      const col = k < 3 ? k : k - 3;
      const isBase = name === 'Baseline';
      legend.push({
        data: isBase ? [{ name, icon: 'rect' }] : [name],
        left: p.cols[col], top: p.rows[row] - 8, itemWidth: 62, itemHeight: isBase ? 4 : 11,
        padding: 0, itemGap: 0, selectedMode: false,
        textStyle: { color: '#000', fontSize: 16, fontFamily: SERIF },
      });
    });
    graphic.push({
      type: 'text', x: p.titleXY[0], y: p.titleXY[1],
      style: { text: p.title, font: `bold 16px ${SERIF}`, fill: '#000', textAlign: 'center', textVerticalAlign: 'middle' },
    });
    p.notes.forEach((n) => {
      graphic.push({
        type: 'text', x: n.x, y: n.y,
        style: { text: n.text, font: `16px ${SERIF}`, fill: '#000', textAlign: 'center', textVerticalAlign: 'middle' },
      });
    });
  });

  graphic.push({ type: 'line', shape: { x1: 6, y1: 11, x2: 1137, y2: 11 }, style: { stroke: '#000', lineWidth: 2 } });
  graphic.push({ type: 'line', shape: { x1: 7, y1: 10, x2: 7, y2: 1735 }, style: { stroke: '#000', lineWidth: 2 } });
  graphic.push({
    type: 'text', x: 12, y: 1728,
    style: { text: 'Note:A decline of the REER corresponds to real effective appreciation.', font: `15px ${SANS}`, fill: '#000', textAlign: 'left', textVerticalAlign: 'middle' },
  });

  return { animation: false, backgroundColor: '#ffffff', grid, xAxis, yAxis, series, legend, graphic };
}

export default function App() {
  const ref = useRef<HTMLDivElement>(null);
  useEffect(() => {
    if (!ref.current) return;
    const chart = echarts.init(ref.current, undefined, { renderer: 'svg' });
    chart.setOption(buildOption());
    return () => chart.dispose();
  }, []);
  return (
    <div
      ref={ref}
      style={{ position: 'absolute', left: 0, top: 0, width: 1137, height: 1735, background: '#fff' }}
    />
  );
}
